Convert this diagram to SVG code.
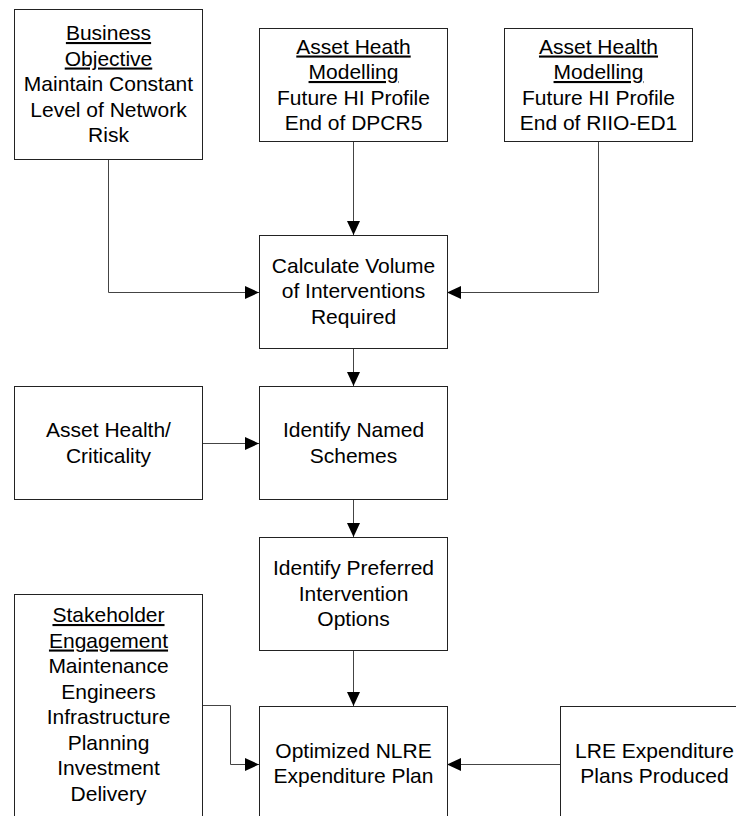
<svg xmlns="http://www.w3.org/2000/svg" width="736" height="816" viewBox="0 0 736 816">
<style>
.box{fill:#fff;stroke:#222;stroke-width:1}
.t{font-family:"Liberation Sans",Arial,sans-serif;font-size:21px;fill:#000;text-anchor:middle}
.u{text-decoration:underline}
.c{fill:none;stroke:#444;stroke-width:1}
</style>
<defs>
<marker id="ah" markerWidth="14" markerHeight="13" refX="14" refY="6.5" orient="auto" markerUnits="userSpaceOnUse">
<path d="M0,0 L14,6.5 L0,13 Z" fill="#000"/>
</marker>
</defs>
<rect width="736" height="816" fill="#fff"/>
<g id="connectors">
<path class="c" d="M108.5,159 V292.5 H259" marker-end="url(#ah)"/>
<path class="c" d="M598.5,141 V292.5 H447" marker-end="url(#ah)"/>
<path class="c" d="M353.5,141 V235" marker-end="url(#ah)"/>
<path class="c" d="M353.5,349 V386" marker-end="url(#ah)"/>
<path class="c" d="M202,443.5 H259" marker-end="url(#ah)"/>
<path class="c" d="M353.5,500 V537" marker-end="url(#ah)"/>
<path class="c" d="M353.5,650 V706" marker-end="url(#ah)"/>
<path class="c" d="M202,705.5 H230.5 V764.5 H259" marker-end="url(#ah)"/>
<path class="c" d="M560,764.5 H447" marker-end="url(#ah)"/>
</g>
<g id="business">
<rect class="box" x="14.5" y="9.5" width="188" height="150"/>
<text class="t"><tspan class="u" x="108.5" y="40">Business</tspan><tspan class="u" x="108.5" y="65.5">Objective</tspan><tspan x="108.5" y="91">Maintain Constant</tspan><tspan x="108.5" y="116.5">Level of Network</tspan><tspan x="108.5" y="142">Risk</tspan></text>
</g>
<g id="heath-dpcr5">
<rect class="box" x="259.5" y="28.5" width="188" height="113"/>
<text class="t"><tspan class="u" x="353.5" y="53.5">Asset Heath</tspan><tspan class="u" x="353.5" y="79">Modelling</tspan><tspan x="353.5" y="104.5">Future HI Profile</tspan><tspan x="353.5" y="130">End of DPCR5</tspan></text>
</g>
<g id="health-riio">
<rect class="box" x="504.5" y="28.5" width="188" height="113"/>
<text class="t"><tspan class="u" x="598.5" y="53.5">Asset Health</tspan><tspan class="u" x="598.5" y="79">Modelling</tspan><tspan x="598.5" y="104.5">Future HI Profile</tspan><tspan x="598.5" y="130">End of RIIO-ED1</tspan></text>
</g>
<g id="calculate">
<rect class="box" x="259.5" y="235.5" width="188" height="113"/>
<text class="t"><tspan x="353.5" y="273">Calculate Volume</tspan><tspan x="353.5" y="298">of Interventions</tspan><tspan x="353.5" y="323.5">Required</tspan></text>
</g>
<g id="criticality">
<rect class="box" x="14.5" y="386.5" width="188" height="113"/>
<text class="t"><tspan x="108.5" y="437">Asset Health/</tspan><tspan x="108.5" y="463">Criticality</tspan></text>
</g>
<g id="named">
<rect class="box" x="259.5" y="386.5" width="188" height="113"/>
<text class="t"><tspan x="353.5" y="437">Identify Named</tspan><tspan x="353.5" y="463">Schemes</tspan></text>
</g>
<g id="preferred">
<rect class="box" x="259.5" y="537.5" width="188" height="113"/>
<text class="t"><tspan x="353.5" y="575">Identify Preferred</tspan><tspan x="353.5" y="600.5">Intervention</tspan><tspan x="353.5" y="626">Options</tspan></text>
</g>
<g id="stakeholder">
<rect class="box" x="14.5" y="594.5" width="188" height="240"/>
<text class="t"><tspan class="u" x="108.5" y="622">Stakeholder</tspan><tspan class="u" x="108.5" y="647.5">Engagement</tspan><tspan x="108.5" y="673">Maintenance</tspan><tspan x="108.5" y="698.5">Engineers</tspan><tspan x="108.5" y="724">Infrastructure</tspan><tspan x="108.5" y="749.5">Planning</tspan><tspan x="108.5" y="775">Investment</tspan><tspan x="108.5" y="800.5">Delivery</tspan></text>
</g>
<g id="optimized">
<rect class="box" x="259.5" y="706.5" width="188" height="130"/>
<text class="t"><tspan x="353.5" y="758">Optimized NLRE</tspan><tspan x="353.5" y="783">Expenditure Plan</tspan></text>
</g>
<g id="lre">
<rect class="box" x="560.5" y="706.5" width="188" height="130"/>
<text class="t"><tspan x="654.5" y="758">LRE Expenditure</tspan><tspan x="654.5" y="783">Plans Produced</tspan></text>
</g>
</svg>
